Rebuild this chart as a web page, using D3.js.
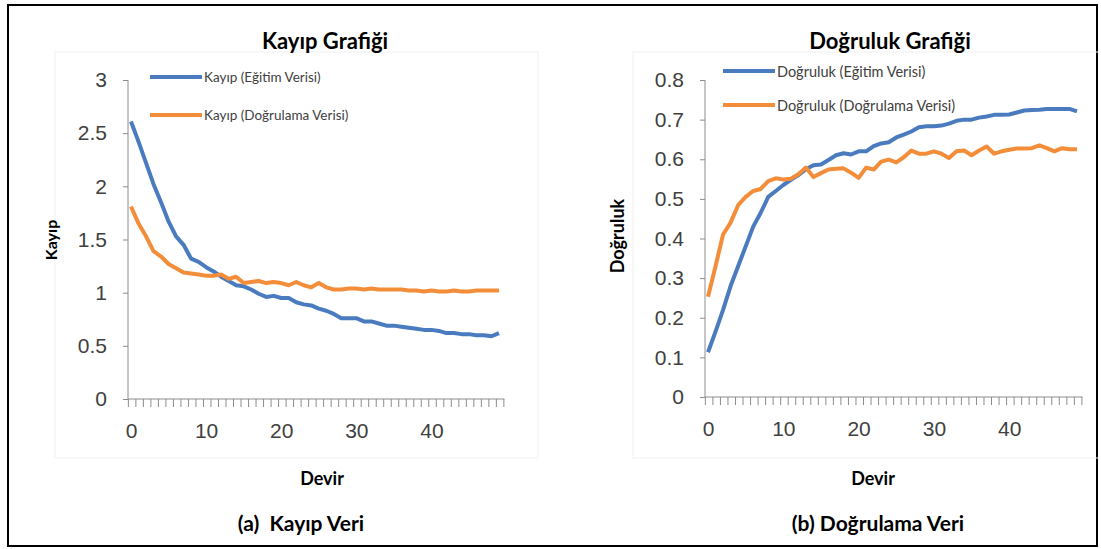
<!DOCTYPE html>
<html>
<head>
<meta charset="utf-8">
<script src="https://cdn.jsdelivr.net/npm/d3@7"></script>
<style>
  body { margin: 0; background: #fff; }
  svg { display: block; font-family: Lato, "Open Sans", sans-serif; }
</style>
</head>
<body>
<svg id="chart" width="1101" height="549"></svg>
<script>
// epochs 0..49
const epochs = d3.range(50);

const lossTrain = [2.61, 2.42, 2.22, 2.02, 1.85, 1.67, 1.53, 1.45, 1.32, 1.29,
  1.24, 1.20, 1.15, 1.11, 1.07, 1.06, 1.03, 0.99, 0.96, 0.97,
  0.95, 0.95, 0.91, 0.89, 0.88, 0.85, 0.83, 0.80, 0.76, 0.76,
  0.76, 0.73, 0.73, 0.71, 0.69, 0.69, 0.68, 0.67, 0.66, 0.65,
  0.65, 0.64, 0.62, 0.62, 0.61, 0.61, 0.60, 0.60, 0.59, 0.62];
const lossVal = [1.81, 1.65, 1.53, 1.39, 1.34, 1.27, 1.23, 1.19, 1.18, 1.17,
  1.16, 1.16, 1.17, 1.13, 1.15, 1.09, 1.10, 1.11, 1.09, 1.10,
  1.09, 1.07, 1.10, 1.07, 1.05, 1.09, 1.05, 1.03, 1.03, 1.04,
  1.04, 1.03, 1.04, 1.03, 1.03, 1.03, 1.03, 1.02, 1.02, 1.01,
  1.02, 1.01, 1.01, 1.02, 1.01, 1.01, 1.02, 1.02, 1.02, 1.02];

const accTrain = [0.113, 0.165, 0.22, 0.28, 0.33, 0.38, 0.43, 0.465, 0.505, 0.52,
  0.535, 0.548, 0.56, 0.575, 0.585, 0.587, 0.598, 0.61, 0.615, 0.612,
  0.62, 0.62, 0.633, 0.64, 0.643, 0.655, 0.662, 0.67, 0.681, 0.683,
  0.683, 0.685, 0.69, 0.697, 0.70, 0.70, 0.705, 0.708, 0.712, 0.712,
  0.713, 0.718, 0.723, 0.724, 0.725, 0.727, 0.727, 0.727, 0.727, 0.721];
const accVal = [0.253, 0.33, 0.41, 0.44, 0.484, 0.505, 0.52, 0.525, 0.545, 0.552,
  0.549, 0.551, 0.562, 0.579, 0.555, 0.565, 0.574, 0.576, 0.577, 0.566,
  0.553, 0.579, 0.574, 0.594, 0.599, 0.592, 0.605, 0.622, 0.614, 0.614,
  0.62, 0.614, 0.603, 0.62, 0.622, 0.61, 0.622, 0.632, 0.614, 0.62,
  0.624, 0.627, 0.627, 0.628, 0.635, 0.628, 0.62, 0.628, 0.625, 0.625];

const lossTicks = [0, 0.5, 1, 1.5, 2, 2.5, 3];
const accTicks = [0, 0.1, 0.2, 0.3, 0.4, 0.5, 0.6, 0.7, 0.8];
const epochTicks = [0, 10, 20, 30, 40];

const blue = "#4a7bbf";
const orange = "#f38d3a";

const svg = d3.select("#chart");

// outer frame
svg.append("rect")
  .attr("x", 8).attr("y", 5).attr("width", 1089).attr("height", 541)
  .attr("fill", "none").attr("stroke", "#000").attr("stroke-width", 2);

function drawPanel(cfg) {
  const g = svg.append("g");

  // faint chart area box
  g.append("rect")
    .attr("x", cfg.box[0]).attr("y", cfg.box[1])
    .attr("width", cfg.box[2]).attr("height", cfg.box[3])
    .attr("fill", "none").attr("stroke", "#f0f0f0");

  const x = d3.scaleLinear().domain([0, 49]).range([cfg.x0, cfg.x1]);
  const y = d3.scaleLinear().domain(cfg.yDomain).range([cfg.y0, cfg.y1]);

  // y axis
  const yAxis = g.append("g")
    .attr("transform", `translate(${cfg.axisX},0)`)
    .call(d3.axisLeft(y).tickValues(cfg.yTicks).tickSize(5).tickPadding(16)
      .tickFormat(cfg.yFormat));
  yAxis.select(".domain").attr("stroke", "#8c8c8c").attr("d", `M0,${cfg.y0 + 0.5}V${cfg.y1}`);
  yAxis.selectAll(".tick line").attr("stroke", "#8c8c8c");
  yAxis.selectAll(".tick text").attr("font-size", 21).attr("fill", "#404040");

  // x axis minor ticks every epoch
  const xAxisG = g.append("g").attr("transform", `translate(0,${cfg.y0})`);
  xAxisG.append("line")
    .attr("x1", cfg.axisX).attr("x2", x(50) - 2)
    .attr("stroke", "#8c8c8c");
  xAxisG.selectAll("line.minor")
    .data(d3.range(51))
    .join("line")
    .attr("class", "minor")
    .attr("x1", (d) => x(d - 0.35)).attr("x2", (d) => x(d - 0.35))
    .attr("y1", 0).attr("y2", 8)
    .attr("stroke", "#8c8c8c");
  const xAxis = xAxisG.append("g")
    .call(d3.axisBottom(x).tickValues(epochTicks).tickSize(0).tickPadding(24));
  xAxis.select(".domain").remove();
  xAxis.selectAll(".tick text").attr("font-size", 21).attr("fill", "#404040");

  // lines
  const line = d3.line().x((d, i) => x(epochs[i])).y((d) => y(d));
  g.append("path").datum(cfg.train)
    .attr("d", line).attr("fill", "none")
    .attr("stroke", blue).attr("stroke-width", 4).attr("stroke-linejoin", "round");
  g.append("path").datum(cfg.val)
    .attr("d", line).attr("fill", "none")
    .attr("stroke", orange).attr("stroke-width", 4).attr("stroke-linejoin", "round");

  // legend
  cfg.legend.forEach((lg) => {
    g.append("line")
      .attr("x1", lg.x).attr("x2", lg.x + 52)
      .attr("y1", lg.y).attr("y2", lg.y)
      .attr("stroke", lg.color).attr("stroke-width", 4);
    g.append("text")
      .attr("x", lg.x + 54).attr("y", lg.y)
      .attr("dominant-baseline", "central")
      .attr("font-size", cfg.legendSize).attr("fill", "#404040")
      .text(lg.label);
  });

  // titles
  g.append("text")
    .attr("x", cfg.titleX).attr("y", 40)
    .attr("text-anchor", "middle").attr("dominant-baseline", "central")
    .attr("font-size", 22).attr("font-weight", "bold").attr("fill", "#000")
    .text(cfg.title);
  g.append("text")
    .attr("transform", `translate(${cfg.yLabelX},${cfg.yLabelY}) rotate(-90)`)
    .attr("text-anchor", "middle").attr("dominant-baseline", "central")
    .attr("font-size", cfg.yLabelSize).attr("font-weight", "bold").attr("fill", "#000")
    .text(cfg.yLabel);
  g.append("text")
    .attr("x", cfg.devirX).attr("y", 478)
    .attr("text-anchor", "middle").attr("dominant-baseline", "central")
    .attr("font-size", 18).attr("font-weight", "bold").attr("fill", "#000")
    .text("Devir");
  g.append("text")
    .attr("x", cfg.captionX).attr("y", 522)
    .attr("text-anchor", "middle").attr("dominant-baseline", "central")
    .attr("font-size", 21).attr("font-weight", "bold").attr("fill", "#000")
    .attr("xml:space", "preserve")
    .text(cfg.caption);
}

drawPanel({
  box: [55, 52, 483, 406],
  x0: 131, x1: 499, axisX: 128,
  y0: 399, y1: 80, yDomain: [0, 3],
  yTicks: lossTicks, yFormat: d3.format("~g"),
  train: lossTrain, val: lossVal,
  legendSize: 13.5,
  legend: [
    { x: 150, y: 77, color: blue, label: "Kayıp (Eğitim Verisi)" },
    { x: 150, y: 115, color: orange, label: "Kayıp (Doğrulama Verisi)" }
  ],
  title: "Kayıp Grafiği", titleX: 325,
  yLabel: "Kayıp", yLabelX: 50, yLabelY: 240, yLabelSize: 16,
  devirX: 322,
  caption: "(a)  Kayıp Veri", captionX: 301
});

drawPanel({
  box: [633, 52, 470, 406],
  x0: 708, x1: 1077, axisX: 705,
  y0: 397, y1: 80, yDomain: [0, 0.8],
  yTicks: accTicks, yFormat: (d) => (d === 0 ? "0" : d.toFixed(1)),
  train: accTrain, val: accVal,
  legendSize: 14.5,
  legend: [
    { x: 723, y: 71, color: blue, label: "Doğruluk (Eğitim Verisi)" },
    { x: 723, y: 105, color: orange, label: "Doğruluk (Doğrulama Verisi)" }
  ],
  title: "Doğruluk Grafiği", titleX: 890,
  yLabel: "Doğruluk", yLabelX: 617, yLabelY: 236, yLabelSize: 18,
  devirX: 873,
  caption: "(b) Doğrulama Veri", captionX: 878
});
</script>
</body>
</html>
